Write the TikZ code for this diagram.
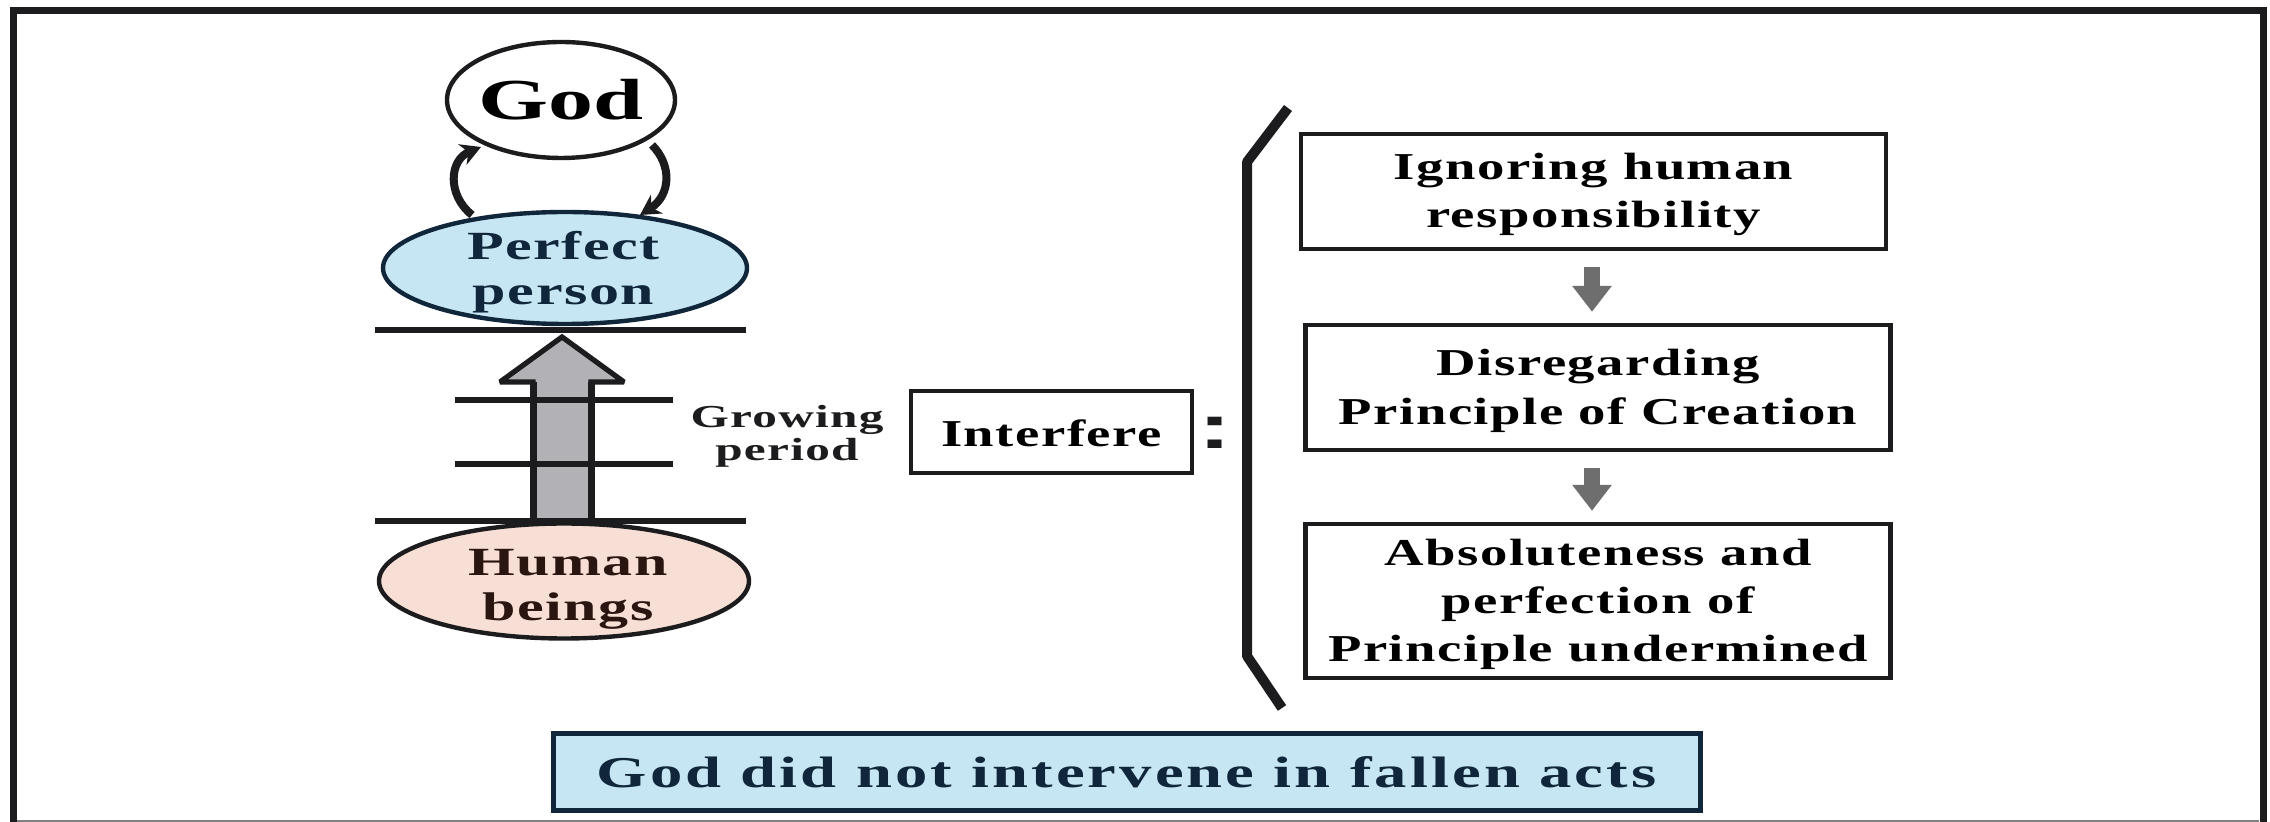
\documentclass[tikz,border=0pt]{standalone}
\usepackage{fontspec}
\setmainfont{Liberation Serif}
\newfontfamily\dgfont[LetterSpace=4,FakeStretch=1.44]{Liberation Serif}
\newfontfamily\dgoval[LetterSpace=4,FakeStretch=1.5]{Liberation Serif}
\newfontfamily\dggrow[LetterSpace=4,FakeStretch=1.54]{Liberation Serif}
\newfontfamily\dgtitle[FakeStretch=1.55]{Liberation Serif}
\newfontfamily\dgwide[LetterSpace=7,FakeStretch=1.47]{Liberation Serif}
\newfontfamily\dgcolon[FakeStretch=1.6]{Liberation Sans}
\usetikzlibrary{arrows.meta,shapes.geometric,calc}
\definecolor{ink}{HTML}{1C1C1E}
\definecolor{navy}{HTML}{10263A}
\definecolor{umber}{HTML}{2A1510}
\definecolor{skyfill}{HTML}{C6E6F3}
\definecolor{rosefill}{HTML}{F8DFD5}
\definecolor{greyfill}{HTML}{B2B2B6}
\definecolor{tipgrey}{HTML}{6E6E6E}
\tikzset{
  x=0.5pt,y=-0.5pt,
  oval/.style={ellipse,draw=ink,line width=2.2pt,inner sep=0pt,align=center},
  ovaltext/.style={inner sep=0pt,align=center,font=\dgoval\bfseries\fontsize{20}{22.5}\selectfont},
  textbox/.style={rectangle,draw=ink,line width=2.2pt,inner sep=0pt,align=center,
    font=\dgfont\bfseries\fontsize{19}{24}\selectfont},
  rung/.style={draw=ink,line width=2.8pt},
  loopline/.style={draw=ink,line width=4pt,-{Stealth[length=10pt,width=11pt]}},
  stepdown/.style={draw=tipgrey,line width=8pt,-{Triangle[length=13pt,width=19pt]},
    shorten <=8pt,shorten >=5.5pt},
}
\begin{document}
\begin{tikzpicture}
\useasboundingbox (0,0) rectangle (2270,822);
\fill[white] (0,0) rectangle (2270,822);
% frame
\draw[ink,line width=3.5pt,line join=miter] (13.5,822) -- (13.5,10.5) -- (2263,10.5) -- (2263,822);
\draw[gray,line width=1pt] (17,820.5) -- (2259,820.5);
% growing arrow
\coordinate (gbase) at (562,521);
\coordinate (gtip) at (562,337);
\draw[fill=greyfill,draw=ink,line width=2.6pt,miter limit=3]
  (gbase) ++(-29,0) -- ++(0,-139) -- ++(-33,0) -- (gtip) -- ++(62,45) -- ++(-33,0) -- ++(0,139);
\draw[ink,line width=3.5pt] (533,382) -- (533,521) (591,382) -- (591,521);
% levels
\coordinate (t1) at (375,330); \coordinate (t2) at (746,330);
\coordinate (m1) at (455,400); \coordinate (m2) at (673,400);
\coordinate (n1) at (455,464); \coordinate (n2) at (673,464);
\coordinate (b1) at (375,521); \coordinate (b2) at (746,521);
\draw[rung] (t1) -- (t2);
\draw[rung] (m1) -- (m2);
\draw[rung] (n1) -- (n2);
\draw[rung] (b1) -- (b2);
% ovals
\node[oval,fill=white,minimum width=114pt,minimum height=58pt,
  label={[name=godtext,inner sep=0pt,font=\dgtitle\bfseries\fontsize{29}{30}\selectfont]center:God}] (god) at (561,100) {};
\node[oval,draw=navy,fill=skyfill,minimum width=182pt,minimum height=56pt,
  label={[name=perfecttext,ovaltext,text=navy,xshift=-0.7pt,yshift=-2.2pt]center:Perfect\\person}] (perfect) at (565,268) {};
\node[oval,fill=rosefill,minimum width=185pt,minimum height=57.5pt,
  label={[name=humantext,ovaltext,text=umber,xshift=2pt,yshift=-4pt]center:Human\\beings}] (human) at (564,581) {};
% loops
\coordinate (la) at (472,215); \coordinate (lb) at (481,147);
\coordinate (ra) at (652,145); \coordinate (rb) at (640,215);
\draw[loopline] (la) .. controls (447,195) and (449,160) .. (lb);
\draw[loopline] (ra) .. controls (672,165) and (671,195) .. (rb);
% label
\node[font=\dggrow\bfseries\fontsize{16}{16.5}\selectfont,align=center,text=ink,inner sep=0pt] (grow) at (787,436.5) {Growing\\period};
% interfere
\node[textbox,minimum width=140.5pt,minimum height=41pt] (interfere) at (1051.5,432) {\rule{0pt}{14.5pt}Interfere};
\node[font=\dgcolon\bfseries\fontsize{31}{31}\selectfont,text=ink,inner sep=0pt] (colon) at (1215,433) {:};
% bracket
\coordinate (k1) at (1288,108); \coordinate (k2) at (1247,162);
\coordinate (k3) at (1247,656); \coordinate (k4) at (1282,708);
\draw[ink,line width=5pt,line join=round] (k1) -- (k2) -- (k3) -- (k4);
% right column
\node[textbox,minimum width=292.5pt,minimum height=57.5pt] (ignore) at (1593.5,191.5) {\rule{0pt}{16.5pt}Ignoring human\\responsibility};
\node[textbox,minimum width=292.5pt,minimum height=62.5pt,font=\dgfont\bfseries\fontsize{19}{24.5}\selectfont] (disreg) at (1598,387.5) {\rule{0pt}{16.5pt}Disregarding\\Principle of Creation};
\node[textbox,minimum width=292.5pt,minimum height=77pt,font=\dgfont\bfseries\fontsize{19}{24}\selectfont] (absol) at (1598,601) {\rule{0pt}{17pt}Absoluteness and\\perfection of\\Principle undermined};
\draw[stepdown] (ignore.south -| 1592,0) -- (disreg.north -| 1592,0);
\draw[stepdown] (disreg.south -| 1592,0) -- (absol.north -| 1592,0);
% conclusion
\node[rectangle,draw=navy,fill=skyfill,line width=2.5pt,inner sep=0pt,text=navy,
  minimum width=573.5pt,minimum height=38pt,
  font=\dgwide\bfseries\fontsize{22}{24}\selectfont] (verdict) at (1126.5,772) {God did not intervene in fallen acts};
\end{tikzpicture}
\end{document}
